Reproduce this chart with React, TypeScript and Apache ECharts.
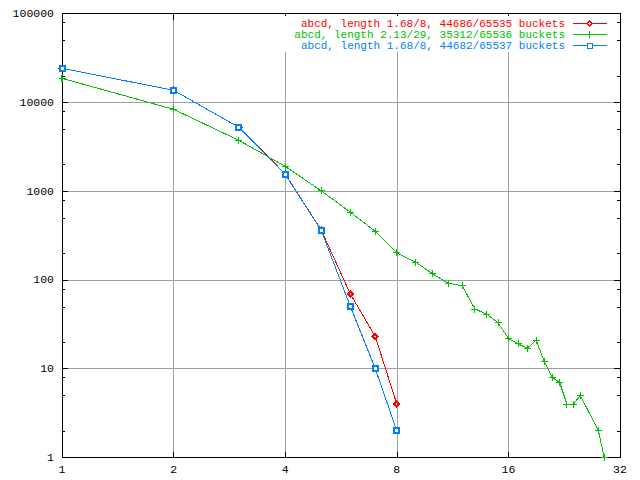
import React, { useEffect, useRef } from "react";
import * as echarts from "echarts";

const lengthsShort = [1, 2, 3, 4, 5, 6, 7, 8];
const redValues = [24150, 13650, 5230, 1560, 365, 69, 23, 4];
const blueValues = [24150, 13650, 5230, 1545, 362, 50, 10, 2];
const greenLengths = [1, 2, 3, 4, 5, 6, 7, 8, 9, 10, 11, 12, 13, 14, 15, 16, 17, 18, 19, 20, 21, 22, 23, 24, 25, 28, 29];
const greenValues = [18620, 8340, 3730, 1900, 1010, 577, 352, 202, 158, 117, 92, 86, 47, 41, 33, 22, 19, 17, 21, 12, 8, 7, 4, 4, 5, 2, 1];
const seriesNames = [
  "abcd, length 1.68/8, 44686/65535 buckets",
  "abcd, length 2.13/29, 35312/65536 buckets",
  "abcd, length 1.68/8, 44682/65537 buckets",
];
const minorTickValues = [2, 5, 8, 20, 50, 80, 200, 500, 800, 2000, 5000, 8000, 20000, 50000, 80000];

const RED = "#ff0000";
const GREEN = "#00c000";
const BLUE = "#0080ff";
const FONT = "Liberation Mono";
const PLUS = "path://M3,0h1v3h3v1h-3v3h-1v-3h-3v-1h3z";

export default function App() {
  const ref = useRef<HTMLDivElement>(null);
  useEffect(() => {
    if (!ref.current) return;
    const chart = echarts.init(ref.current, null, { renderer: "svg" });
    const labelStyle = { color: "#000", fontFamily: FONT, fontSize: 11.5 };
    const fmt = (v: number) => String(Math.round(v));
    const rows = [23.5, 34.5, 45.5];
    const colors = [RED, GREEN, BLUE];
    const legendEls: any[] = [
      { type: "rect", shape: { x: 276, y: 16, width: 340, height: 36 }, style: { fill: "#fff" }, z: 1 },
    ];
    rows.forEach((y, i) => {
      legendEls.push({
        type: "text",
        z: 3,
        style: { text: seriesNames[i], x: 565, y, align: "right", verticalAlign: "middle", fill: colors[i], fontFamily: FONT, fontSize: 11, lineHeight: 10 },
      });
      legendEls.push({ type: "line", z: 3, shape: { x1: 573, y1: y, x2: 607, y2: y }, style: { stroke: colors[i], lineWidth: 1 } });
    });
    legendEls.push({ type: "polygon", z: 4, shape: { points: [[589.5, rows[0] - 2.5], [592, rows[0]], [589.5, rows[0] + 2.5], [587, rows[0]]] }, style: { fill: "#fff", stroke: RED, lineWidth: 1 } });
    legendEls.push({ type: "line", z: 4, shape: { x1: 589.5, y1: rows[1] - 3.5, x2: 589.5, y2: rows[1] + 3.5 }, style: { stroke: GREEN, lineWidth: 1 } });
    legendEls.push({ type: "rect", z: 4, shape: { x: 587, y: rows[2] - 2.5, width: 5, height: 5 }, style: { fill: "#fff", stroke: BLUE, lineWidth: 1 } });

    const xBase = {
      type: "log",
      logBase: 2,
      min: 1,
      max: 32,
      splitNumber: 5,
      axisLine: { show: true, lineStyle: { color: "#000", width: 1 } },
      axisTick: { show: true, inside: true, length: 6, lineStyle: { color: "#000" } },
    };
    const yBase = {
      type: "log",
      logBase: 10,
      min: 1,
      max: 100000,
      splitNumber: 5,
      axisLine: { show: true, lineStyle: { color: "#000", width: 1 } },
      axisTick: { show: true, inside: true, length: 6, lineStyle: { color: "#000" } },
    };
    chart.setOption({
      animation: false,
      backgroundColor: "#fff",
      grid: { left: 62, right: 20, top: 13.5, bottom: 22.5 },
      xAxis: [
        {
          ...xBase,
          position: "bottom",
          splitLine: { show: true, lineStyle: { color: "#a0a0a0", width: 1 } },
          axisLabel: { ...labelStyle, margin: 6, formatter: fmt },
        },
        { ...xBase, position: "top", splitLine: { show: false }, axisLabel: { show: false } },
      ],
      yAxis: [
        {
          ...yBase,
          position: "left",
          splitLine: { show: true, lineStyle: { color: "#a0a0a0", width: 1 } },
          axisLabel: { ...labelStyle, margin: 8, formatter: fmt },
        },
        { ...yBase, position: "right", splitLine: { show: false }, axisLabel: { show: false } },
      ],
      graphic: legendEls,
      series: [
        {
          type: "line",
          name: seriesNames[0],
          data: lengthsShort.map((x, i) => [x, redValues[i]]),
          color: RED,
          lineStyle: { width: 1, color: RED },
          symbol: "emptyDiamond",
          symbolSize: 5,
          itemStyle: { color: RED, borderColor: RED, borderWidth: 1 },
          z: 2,
        },
        {
          type: "line",
          name: seriesNames[1],
          data: greenLengths.map((x, i) => [x, greenValues[i]]),
          color: GREEN,
          lineStyle: { width: 1, color: GREEN },
          symbol: PLUS,
          symbolSize: 7,
          itemStyle: { color: GREEN },
          z: 2,
        },
        {
          type: "line",
          name: seriesNames[2],
          data: lengthsShort.map((x, i) => [x, blueValues[i]]),
          color: BLUE,
          lineStyle: { width: 1, color: BLUE },
          symbol: "emptyRect",
          symbolSize: 5,
          itemStyle: { color: BLUE, borderColor: BLUE, borderWidth: 1 },
          z: 2,
        },
        {
          type: "custom",
          coordinateSystem: "cartesian2d",
          silent: true,
          data: minorTickValues.map((v) => [1, v]),
          renderItem: (params: any, api: any) => {
            const v = api.value(1);
            const p = api.coord([1, v]);
            const q = api.coord([32, v]);
            const y = Math.round(p[1]) + 0.5;
            return {
              type: "group",
              children: [
                { type: "line", shape: { x1: p[0], y1: y, x2: p[0] + 3, y2: y }, style: { stroke: "#000", lineWidth: 1 } },
                { type: "line", shape: { x1: q[0] - 3, y1: y, x2: q[0], y2: y }, style: { stroke: "#000", lineWidth: 1 } },
              ],
            };
          },
          z: 3,
        },
      ],
    } as any);
    return () => chart.dispose();
  }, []);
  return (
    <>
      <style>{"#chartbox path, #chartbox line, #chartbox polyline, #chartbox polygon, #chartbox rect { shape-rendering: crispEdges; }"}</style>
      <div id="chartbox" ref={ref} style={{ position: "fixed", left: 0, top: 0, width: 640, height: 480 }} />
    </>
  );
}
